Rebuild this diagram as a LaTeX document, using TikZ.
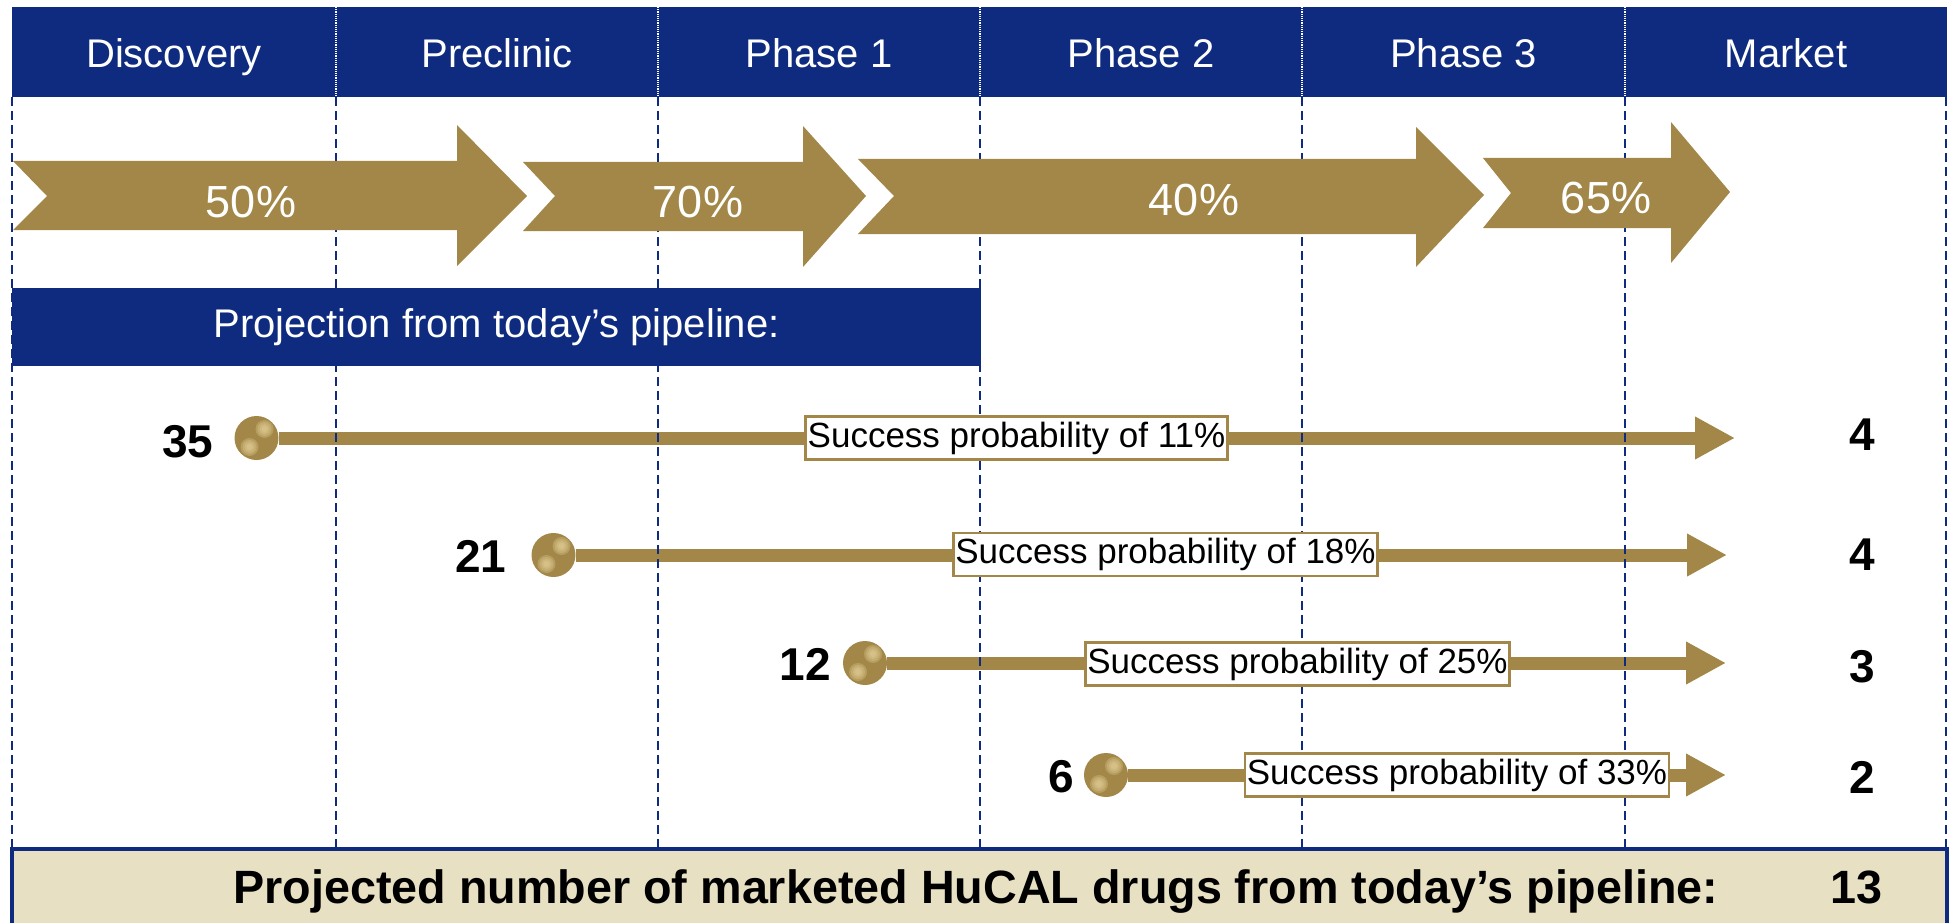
\documentclass[tikz,border=0pt]{standalone}
\usepackage{fontspec}
\setmainfont{Liberation Sans}
\usetikzlibrary{arrows.meta}
\definecolor{navy}{RGB}{14,43,128}
\definecolor{gold}{RGB}{162,135,72}
\definecolor{goldlight}{RGB}{236,216,160}
\definecolor{beige}{RGB}{232,224,194}
\pgfdeclarelayer{bg}
\pgfdeclarelayer{mid}
\pgfsetlayers{bg,mid,main}
\begin{document}
\begin{tikzpicture}[x=1pt,y=-1pt,
  hdr/.style={text=white,font=\fontsize{40}{48}\selectfont,anchor=base,inner sep=0pt},
  pct/.style={text=white,font=\fontsize{45}{54}\selectfont,anchor=base,inner sep=0pt},
  num/.style={text=black,font=\fontsize{46}{55}\selectfont\bfseries,anchor=base,inner sep=0pt},
  ball/.style={circle,fill=gold,minimum size=44pt,inner sep=0pt,
    path picture={
      \foreach \r in {9,7,5,3} {
        \fill[goldlight,opacity=0.28]
          ([shift={(8pt,9pt)}]path picture bounding box.center) circle (\r pt);
        \fill[goldlight,opacity=0.28]
          ([shift={(-7pt,-9pt)}]path picture bounding box.center) circle (\r pt);
      }
    }},
  lab/.style={draw=gold,line width=2.5pt,fill=white,text=black,
    font=\fontsize{35}{42}\selectfont,inner xsep=2pt,inner ysep=0pt,minimum height=43pt},
  conn/.style={draw=gold,line width=13pt,-{Triangle[length=40pt,width=40pt]}},
  gridline/.style={navy,line width=2pt,dash pattern=on 9pt off 5pt},
  hdrdiv/.style={white,line width=1.2pt,densely dotted},
  bigarrow/.style={fill=gold}
]
\useasboundingbox (0,0) rectangle (1952,923);
\clip (0,0) rectangle (1952,923);

% header
\fill[navy] (12,7) rectangle (1947,97);
\foreach \x in {336,658,980,1302,1625} {\draw[hdrdiv] (\x,7) -- (\x,97);}
\node[hdr] (h1) at (174,68) {Discovery};
\node[hdr] (h2) at (497,68) {Preclinic};
\node[hdr] (h3) at (819,68) {Phase 1};
\node[hdr] (h4) at (1141,68) {Phase 2};
\node[hdr] (h5) at (1463.5,68) {Phase 3};
\node[hdr] (h6) at (1786,68) {Market};

% dashed column lines
\begin{pgfonlayer}{mid}
\foreach \x in {12,336,658,980,1302,1625,1946} {\draw[gridline] (\x,97) -- (\x,848);}
\end{pgfonlayer}

% big arrows
\fill[bigarrow] (13,161) -- (47,196) -- (13,230) -- (457,230) -- (457,266) -- (527,196) -- (457,125) -- (457,161) -- cycle;
\fill[bigarrow] (523,162) -- (555,196) -- (523,231) -- (803,231) -- (803,267) -- (866,196) -- (803,126) -- (803,162) -- cycle;
\fill[bigarrow] (858,159) -- (894,196) -- (858,234) -- (1416,234) -- (1416,267) -- (1484,195) -- (1416,127) -- (1416,159) -- cycle;
\fill[bigarrow] (1483,158) -- (1511,193) -- (1483,228) -- (1671,228) -- (1671,263) -- (1730,192) -- (1671,122) -- (1671,158) -- cycle;
\node[pct] (p1) at (251,217) {50\%};
\node[pct] (p2) at (698,217) {70\%};
\node[pct] (p3) at (1194,215) {40\%};
\node[pct] (p4) at (1606,213) {65\%};

% projection bar
\node[fill=navy,text=white,font=\fontsize{40}{48}\selectfont,minimum width=969pt,minimum height=78pt,inner sep=0pt] (proj) at (496.5,327) {Projection from today’s pipeline:};

% rows
\node[ball] (b1) at (256.5,438) {};
\node[ball] (b2) at (553.5,555) {};
\node[ball] (b3) at (865,663) {};
\node[ball] (b4) at (1106,775) {};
\coordinate (e1) at (1735,438);
\coordinate (e2) at (1727,555);
\coordinate (e3) at (1726,663);
\coordinate (e4) at (1726,775);
\begin{pgfonlayer}{bg}
\draw[conn] (b1) -- (e1);
\draw[conn] (b2) -- (e2);
\draw[conn] (b3) -- (e3);
\draw[conn] (b4) -- (e4);
\end{pgfonlayer}
\node[lab] (l1) at (1016.5,438) {Success probability of 11\%};
\node[lab] (l2) at (1165.5,554.5) {Success probability of 18\%};
\node[lab] (l3) at (1297.5,664) {Success probability of 25\%};
\node[lab] (l4) at (1457,775) {Success probability of 33\%};

\node[num] (n1) at (188,457) {35};
\node[num] (n2) at (481,572) {21};
\node[num] (n3) at (805,680) {12};
\node[num] (n4) at (1061,792) {6};
\node[num] (r1) at (1862,450) {4};
\node[num] (r2) at (1862,570) {4};
\node[num] (r3) at (1862,682) {3};
\node[num] (r4) at (1862,793) {2};

% bottom bar
\draw[navy,line width=4pt,fill=beige] (12,849) rectangle (1947,940);
\node[num,font=\fontsize{46.7}{56}\selectfont\bfseries] (tt) at (976,903) {Projected number of marketed HuCAL drugs from today’s pipeline:};
\node[num,font=\fontsize{46.7}{56}\selectfont\bfseries] (tn) at (1856,903) {13};
\end{tikzpicture}
\end{document}
